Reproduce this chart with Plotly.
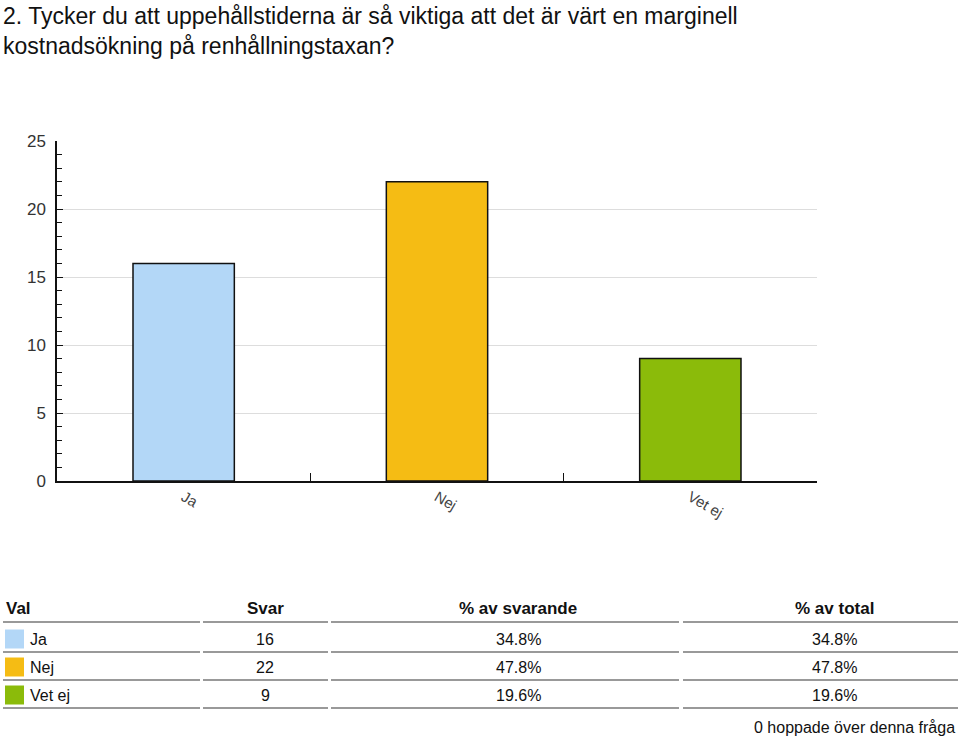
import plotly.graph_objects as go

# ---------- data ----------
categories = ["Ja", "Nej", "Vet ej"]
answers = [16, 22, 9]
pct_respondents = ["34.8%", "47.8%", "19.6%"]
pct_total = ["34.8%", "47.8%", "19.6%"]
colors = ["#b3d7f7", "#f5bc14", "#8bbb0a"]
skipped = 0
question = ("2. Tycker du att uppehållstiderna är så viktiga att det är värt en marginell<br>"
            "kostnadsökning på renhållningstaxan?")

W, H = 960, 738
L, R, T, B = 57, 817, 141, 481   # plot area in page pixels


def px(x):
    return (x - L) / (R - L)


def py(y):
    return (B - y) / (B - T)


FONT = "Liberation Sans, Arial, sans-serif"

fig = go.Figure()
fig.add_trace(go.Bar(
    x=categories, y=answers, width=0.4,
    marker=dict(color=colors, line=dict(color="#111", width=1.5)),
    hoverinfo="x+y",
))

fig.update_layout(
    width=W, height=H,
    margin=dict(l=L, r=W - R, t=T, b=H - B),
    paper_bgcolor="white", plot_bgcolor="white",
    showlegend=False,
    font=dict(family=FONT, color="#222"),
    xaxis=dict(
        showline=True, linecolor="#111", linewidth=1.5,
        ticks="inside", tickson="boundaries", ticklen=8, tickcolor="#111",
        tickangle=30, tickfont=dict(size=15, color="#444"),
        showgrid=False,
    ),
    yaxis=dict(
        range=[0, 25], dtick=5, showline=True, linecolor="#111", linewidth=1.5,
        ticks="inside", ticklen=6, tickcolor="#111",
        tickfont=dict(size=17, color="#333"), ticklabelstandoff=6,
        gridcolor="#dddddd", zeroline=False,
        minor=dict(dtick=1, ticks="inside", ticklen=5, tickcolor="#111", showgrid=False),
    ),
)

ann = []
shapes = []

# title
ann.append(dict(text=question, xref="paper", yref="paper", x=px(1), y=py(1),
                xanchor="left", yanchor="top", align="left", showarrow=False,
                font=dict(size=23, color="#111", family=FONT)))

# ---------- table below chart ----------
col_segments = [(3, 200), (203, 328), (331, 679), (683, 958)]
header_y = 608
row_ys = [639, 667, 695]
line_ys = [622, 652, 680, 708]
col_centers = [None, 265, 518, 834]

headers = ["Val", "Svar", "% av svarande", "% av total"]
head_font = dict(size=17, color="#111", family=FONT)
ann.append(dict(text="<b>Val</b>", xref="paper", yref="paper", x=px(4), y=py(header_y),
                xanchor="left", yanchor="middle", showarrow=False, font=head_font))
for h, cx in zip(headers[1:], col_centers[1:]):
    ann.append(dict(text=f"<b>{h}</b>", xref="paper", yref="paper", x=px(cx), y=py(header_y),
                    xanchor="center", yanchor="middle", showarrow=False, font=head_font))

for ly in line_ys:
    for x0, x1 in col_segments:
        shapes.append(dict(type="line", xref="paper", yref="paper",
                           x0=px(x0), x1=px(x1), y0=py(ly), y1=py(ly),
                           line=dict(color="#999", width=2)))

cell_font = dict(size=16, color="#111", family=FONT)
for i, cat in enumerate(categories):
    ry = row_ys[i]
    shapes.append(dict(type="rect", xref="paper", yref="paper",
                       x0=px(5), x1=px(24), y0=py(ry + 9.5), y1=py(ry - 9.5),
                       fillcolor=colors[i], line=dict(width=0)))
    ann.append(dict(text=cat, xref="paper", yref="paper", x=px(28), y=py(ry),
                    xanchor="left", yanchor="middle", showarrow=False, font=cell_font))
    for val, cx in zip([str(answers[i]), pct_respondents[i], pct_total[i]], col_centers[1:]):
        ann.append(dict(text=val, xref="paper", yref="paper", x=px(cx), y=py(ry),
                        xanchor="center", yanchor="middle", showarrow=False, font=cell_font))

ann.append(dict(text=f"{skipped} hoppade över denna fråga", xref="paper", yref="paper",
                x=px(957), y=py(727), xanchor="right", yanchor="middle", showarrow=False,
                font=cell_font))

fig.update_layout(annotations=ann, shapes=shapes)
# drop the default page margin so the figure fills the window exactly
fig.write_html("out.html", config={"displayModeBar": False},
               post_script="document.body.style.margin='0';document.body.style.overflow='hidden';")
